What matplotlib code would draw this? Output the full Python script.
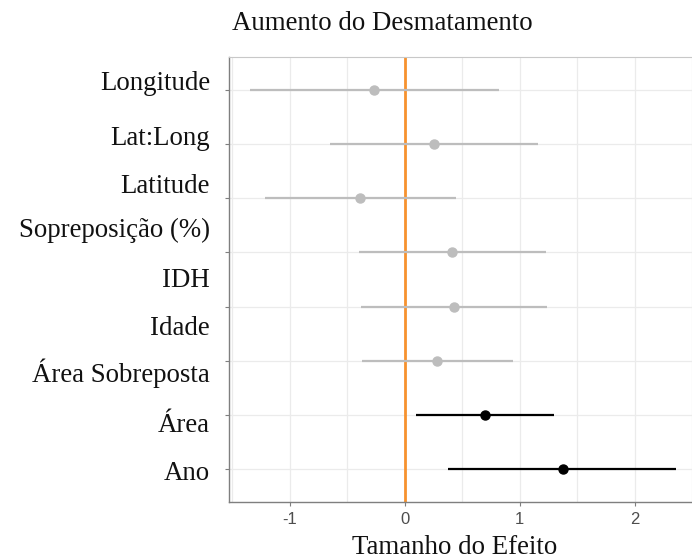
"""Forest plot of effect sizes for deforestation increase."""

import matplotlib.pyplot as plt
import numpy as np

# Labels along the left side, top to bottom
labels = [
    "Longitude", "Lat:Long", "Latitude", "Sopreposição (%)", "IDH",
    "Idade", "Área Sobreposta", "Área", "Ano",
]

# Estimates and confidence limits, one per row, top to bottom
estimates = [-0.27, 0.25, -0.39, 0.41, 0.43, 0.28, 0.70, 1.38]
lower = [-1.35, -0.65, -1.22, -0.40, -0.38, -0.37, 0.10, 0.38]
upper = [0.82, 1.16, 0.45, 1.23, 1.24, 0.94, 1.30, 2.36]
significant = [False, False, False, False, False, False, True, True]

plt.rcParams["axes.unicode_minus"] = False

W, H = 692, 560
fig = plt.figure(figsize=(W / 100, H / 100), dpi=100)
ax = fig.add_axes([229 / W, 1 - 502 / H, (W - 229) / W, (502 - 57) / H])

n = len(estimates)
rows = np.arange(n)[::-1]

for y, est, lo, hi, sig in zip(rows, estimates, lower, upper, significant):
    colour = "black" if sig else "#BDBDBD"
    ax.plot([lo, hi], [y, y], color=colour, lw=1.6, solid_capstyle="butt", zorder=3)
    ax.plot(est, y, "o", color=colour, ms=6.5, zorder=4)

ax.axvline(0, color="#F7922E", lw=2.0, zorder=2)

ax.set_xlim(-1.53, 2.47)
ax.set_ylim(-0.6, n - 1 + 0.6)
ax.set_xticks([-1, 0, 1, 2])
ax.set_xticks(np.arange(-1.5, 2.51, 0.5), minor=True)
ax.set_yticks(rows)
ax.set_yticklabels([])
ax.grid(which="both", axis="x", color="#EBEBEB", lw=0.9, zorder=0)
ax.grid(which="major", axis="y", color="#EBEBEB", lw=0.9, zorder=0)
ax.tick_params(axis="both", which="major", length=3, color="#7F7F7F", width=0.8,
               labelsize=12, labelcolor="#4D4D4D", pad=4)
ax.tick_params(axis="x", which="minor", length=0)
for lab in ax.get_xticklabels():
    lab.set_family("Liberation Sans")

ax.spines["right"].set_visible(False)
ax.spines["top"].set_color("#C8C8C8")
for side in ("left", "bottom"):
    ax.spines[side].set_color("#7F7F7F")
    ax.spines[side].set_linewidth(1.0)

serif = "Liberation Serif"
size = 19.4
# Row labels placed by hand down the left margin
label_baselines = [90, 145, 193, 237, 287, 335, 382, 432, 480]
for text, yb in zip(labels, label_baselines):
    fig.text(210 / W, 1 - yb / H, text, ha="right", va="baseline",
             family=serif, fontsize=size, color="#111111")

fig.text(232 / W, 1 - 30 / H, "Aumento do Desmatamento", ha="left", va="baseline",
         family=serif, fontsize=size, color="#111111")
fig.text(455 / W, 1 - 554 / H, "Tamanho do Efeito", ha="center", va="baseline",
         family=serif, fontsize=size, color="#111111")

fig.savefig("out.png", dpi=100)
